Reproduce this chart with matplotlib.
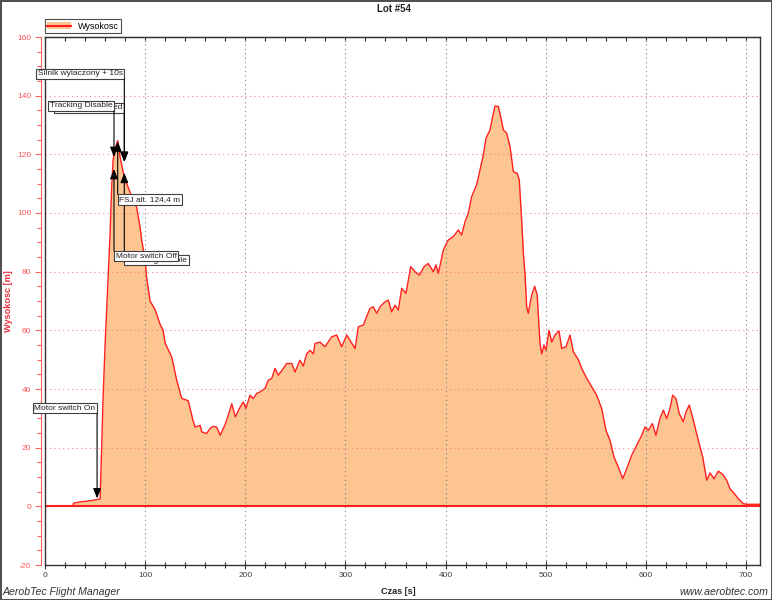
import matplotlib
matplotlib.use('Agg')
import matplotlib.pyplot as plt
from matplotlib.lines import Line2D
from matplotlib.patches import Patch
from matplotlib.ticker import MultipleLocator

plt.rcParams['font.family'] = ['Liberation Sans', 'DejaVu Sans']
plt.rcParams['axes.unicode_minus'] = False

# Flight altitude trace (time [s], altitude [m])
czas = [0, 28, 28.5, 35, 42, 47, 52, 55, 56.6, 58, 60, 62, 63, 65, 66.6, 68, 70, 72.6,
        75, 78, 81.6, 85, 88, 91.5, 95, 96.5, 100, 101.5, 104.9, 110, 115, 118, 120,
        126.5, 131.5, 136.5, 143, 148, 150, 155, 156.5, 161.5, 165, 168, 171.5, 175,
        180, 183, 186.5, 190, 195, 198, 200.7, 204.7, 208, 211.4, 214.7, 219.7, 223,
        226.4, 229.7, 233, 238, 241.4, 246.4, 249.7, 254.6, 258, 261.3, 264.6, 268,
        269.6, 274.6, 279.6, 286.3, 291.3, 296.3, 301.3, 309.6, 312.9, 317.9, 324.5,
        327.8, 331.2, 334.5, 339.5, 342.8, 346.2, 349.5, 352.8, 356.2, 360.5, 365.2,
        369.5, 373.9, 378.6, 382.8, 387.8, 390.5, 392.8, 397.8, 402.7, 407.7, 412.7,
        416.1, 419.4, 422.7, 426.1, 431.1, 434.4, 437.7, 440.4, 444.4, 447.1, 449.4,
        452.7, 455, 457.7, 461, 464.4, 467.7, 471.6, 473.6, 476, 477.7, 479.4, 481,
        482.6, 486, 489, 491.5, 494.3, 496, 498.3, 500.3, 503.3, 506, 509.3, 513.3,
        516, 520.3, 524.3, 527.6, 532.6, 536, 541, 546, 550.9, 555.9, 560.2, 564.2,
        568.2, 572.5, 576.9, 580.9, 585.9, 590.9, 595.9, 599.2, 602.5, 606.5, 610.1,
        614.1, 617.5, 620.8, 624.1, 626.8, 630.1, 633.4, 637.4, 640.1, 643.4, 647.4,
        652.4, 656.8, 660.8, 664.1, 668.1, 672.4, 676.7, 680.7, 684, 688, 692.3,
        697.3, 700.7, 714]
wysokosc = [0, 0, 1.1, 1.5, 1.8, 2.0, 2.3, 2.5, 20, 37, 55, 70, 77, 93, 109, 118, 122,
            124.7, 119, 114, 110, 107, 104, 102, 95, 91, 84, 78, 70, 67, 62, 60, 55.6,
            51, 43, 36.8, 36, 29, 27, 27.6, 25.4, 24.8, 26.6, 27.3, 27, 24.2, 28, 31,
            35, 30.5, 33.9, 35.6, 33.4, 37.9, 36.7, 38.5, 39, 40.2, 43, 43.6, 47, 44.7,
            47, 48.7, 48.7, 45.8, 49.8, 47.8, 52, 53.2, 52, 55.5, 56, 54.4, 57.8, 58.4,
            54.4, 58.4, 53.8, 61.2, 61.8, 67.5, 68, 65.8, 68, 69.7, 70.3, 66.3, 68.6,
            66.9, 74.3, 72.6, 81.7, 80, 78.8, 81.7, 82.8, 80, 82.3, 79.4, 87.4, 90.8,
            91.9, 94.2, 92.5, 97, 99.9, 105.6, 109.6, 114.7, 119.8, 125.5, 128.3,
            132.9, 136.5, 136.3, 132.9, 128.3, 127.2, 122.6, 114.1, 113.5, 111.3, 97.6,
            86.2, 79, 68, 65.8, 72, 75, 72, 55.5, 52, 55, 53.2, 60, 56, 58.4, 59.8,
            53.8, 54.4, 58.4, 52.7, 50, 47, 43.6, 40.7, 37.9, 33.3, 25.9, 22.5, 16.8,
            13.4, 9.4, 12.9, 17.4, 20.8, 24.2, 27.1, 25.9, 28.2, 24.2, 29.9, 32.8,
            29.9, 33.3, 37.9, 36.7, 31.6, 28.8, 32.2, 34.5, 29.4, 22.5, 16.8, 8.9,
            11.4, 9.4, 12, 10.9, 8.9, 6, 4.5, 2.6, 0.9, 0.7, 0.7]

# Event markers: label, time, altitude
zdarzenia = ['Tracking Disabled', 'Tracking Enable', 'Motor switch On',
             'Silnik wylaczony + 10s', 'Tracking Disable', 'Motor switch Off',
             'FSJ alt. 124,4 m']
zdarzenia_czas = [79.2, 79.2, 52, 79.2, 68.9, 68.9, 72.6]
zdarzenia_wys = [117.4, 113.7, 2.7, 117.4, 119.1, 115.0, 124.4]
# box placement: vertical offset in pixels from the point, side of box touching the line
box_pos = [(49, 'right'), (-82, 'left'), (85, 'right'), (83, 'right'),
           (46, 'right'), (-82, 'left'), (-53, 'left')]

fig = plt.figure(figsize=(7.72, 6), dpi=100)
fig.patch.set_facecolor('white')
fig.patch.set_edgecolor('#505050')
fig.patch.set_linewidth(2)
ax = fig.add_axes([45 / 772, 1 - 565 / 600, 715 / 772, 528 / 600])

ax.fill_between(czas, wysokosc, 0, color='#fdc591', lw=0, zorder=2)
ax.plot(czas, wysokosc, color='#ff2020', lw=1.0, zorder=3)
ax.axhline(0, color='#ff2020', lw=1.5, zorder=3)

ax.set_xlim(0, 714)
ax.set_ylim(-20, 160)

ax.xaxis.set_major_locator(MultipleLocator(100))
ax.xaxis.set_minor_locator(MultipleLocator(20))
ax.yaxis.set_major_locator(MultipleLocator(20))
ax.yaxis.set_minor_locator(MultipleLocator(5))

ax.grid(True, axis='x', which='major', color='#808080', linestyle=(0, (1, 3)), lw=0.8)
ax.grid(True, axis='y', which='major', color='#ff8080', linestyle=(0, (1, 3)), lw=0.8)
ax.set_axisbelow(False)

# left axis in red, pushed out from the frame
ax.spines['left'].set_position(('outward', 3))
ax.spines['left'].set_color('#ff6060')
ax.axvline(0, color='#333333', lw=1, clip_on=False, zorder=4)
for s in ['top', 'right', 'bottom']:
    ax.spines[s].set_color('#333333')
    ax.spines[s].set_linewidth(1)
    ax.spines[s].set_zorder(10)

ax.tick_params(axis='y', which='major', direction='out', length=4, width=0.8,
               color='#ff6060', labelcolor='#ff5555', labelsize=6, pad=3)
ax.tick_params(axis='y', which='minor', direction='out', length=3, width=0.8,
               color='#ff6060')
ax.tick_params(axis='x', which='major', direction='inout', length=6, width=0.8,
               color='#333333', labelcolor='#404040', labelsize=6, pad=2)
ax.tick_params(axis='x', which='minor', direction='inout', length=4, width=0.8,
               color='#333333')

top = ax.secondary_xaxis('top')
top.xaxis.set_major_locator(MultipleLocator(100))
top.xaxis.set_minor_locator(MultipleLocator(20))
top.tick_params(which='both', direction='in', length=3, width=0.8, color='#333333',
                labeltop=False)
top.spines['top'].set_color('#333333')

ax.set_ylabel('Wysokosc [m]', color='#e8303c', fontsize=6.6, fontweight='bold')
ax.yaxis.set_label_coords(-32 / 715, 0.5)
fig.text(398 / 772, 1 - 591 / 600, 'Czas [s]', fontsize=6.6, fontweight='bold',
         ha='center', va='center', color='#222222')
fig.text(394 / 772, 1 - 9 / 600, 'Lot #54', fontsize=7, fontweight='bold',
         ha='center', va='center', color='#222222')
fig.text(3 / 772, 1 - 592 / 600, 'AerobTec Flight Manager', fontsize=7.6,
         style='italic', ha='left', va='center', color='#333333')
fig.text(768 / 772, 1 - 592 / 600, 'www.aerobtec.com', fontsize=7.6,
         style='italic', ha='right', va='center', color='#333333')

# legend
h_fill = Patch(facecolor='#fdc591', edgecolor='none')
h_line = Line2D([], [], color='#ff2020', lw=1.5)
leg = fig.legend([(h_fill, h_line)], ['Wysokosc'], loc='lower left',
                 bbox_to_anchor=(45 / 772, 1 - 33 / 600), fontsize=6.5,
                 frameon=True, fancybox=False, borderpad=0.25, handlelength=2.6,
                 handletextpad=0.8, borderaxespad=0)
leg.get_frame().set_edgecolor('#222222')
leg.get_frame().set_linewidth(0.8)

# event annotations: box + vertical leader with arrow head at the point
pad_px = 1.7
for i, lab in enumerate(zdarzenia):
    dy, side = box_pos[i]
    pt = (zdarzenia_czas[i], zdarzenia_wys[i])
    off_x = -pad_px if side == 'right' else pad_px
    va = 'bottom' if dy > 0 else 'top'
    off_y = dy + pad_px if dy > 0 else dy - pad_px
    ax.annotate(lab, xy=pt, xytext=(off_x, off_y), textcoords='offset pixels',
                ha=side, va=va, fontsize=6.0, color='#222222',
                bbox=dict(boxstyle='square,pad=0.2', fc='white', ec='#404040', lw=0.8),
                annotation_clip=False, zorder=5 + i)
    ax.annotate('', xy=pt, xytext=(0, dy), textcoords='offset pixels',
                arrowprops=dict(arrowstyle='-|>,head_length=1.0,head_width=0.4',
                                mutation_scale=6, color='black', lw=0.8,
                                shrinkA=0, shrinkB=0),
                annotation_clip=False, zorder=5 + i)

fig.savefig('out.png', dpi=100, facecolor=fig.get_facecolor(),
            edgecolor=fig.get_edgecolor())
